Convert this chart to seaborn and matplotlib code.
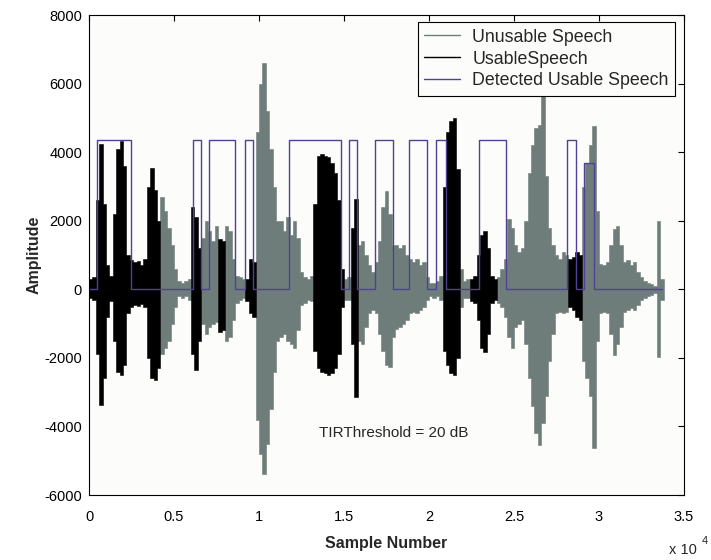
import numpy as np
import pandas as pd
import matplotlib
matplotlib.use("Agg")
import matplotlib.pyplot as plt
import seaborn as sns
from matplotlib.lines import Line2D

# waveform envelope, one (top, bottom) pair per 200-sample bin
BIN_WIDTH = 200
env_top = [
    300, 350, 2600, 4230, 2500, 700, 400, 2200, 4100, 4330,
    3600, 1000, 850, 800, 820, 700, 900, 3000, 3550, 2900,
    2000, 2700, 2300, 1800, 1300, 600, 250, 200, 250, 300,
    2400, 2100, 1200, 1500, 2000, 1700, 1400, 1860, 1470, 1400,
    1850, 1700, 900, 400, 350, 300, 300, 900, 800, 4600,
    6000, 6600, 5200, 4100, 3000, 2000, 2000, 1700, 2100, 1600,
    2000, 1500, 500, 350, 300, 400, 2500, 3900, 3950, 3900,
    3850, 3700, 3400, 2600, 600, 300, 350, 1800, 2630, 1300,
    1400, 1000, 700, 500, 800, 1400, 2400, 2880, 2200, 1300,
    1300, 1200, 1300, 1000, 900, 800, 900, 700, 800, 350,
    200, 200, 250, 400, 3000, 4600, 4900, 5000, 3500, 600,
    250, 300, 300, 400, 1000, 1600, 1715, 1200, 400, 300,
    350, 600, 900, 2050, 1800, 1300, 1100, 1200, 2000, 3400,
    4200, 4700, 4800, 7400, 3300, 1800, 1300, 1000, 900, 1085,
    1000, 900, 950, 1100, 1000, 3000, 3700, 4200, 4770, 2300,
    750, 700, 800, 1300, 1750, 1860, 1300, 800, 850, 700,
    800, 500, 350, 250, 200, 150, 100, 2000, 300,
]
env_bottom = [
    -250, -300, -1900, -3370, -2600, -800, -350, -1500, -2400, -2500,
    -2200, -700, -500, -450, -480, -420, -500, -2000, -2600, -2650,
    -2300, -1900, -1700, -1500, -1000, -500, -200, -250, -200, -300,
    -1900, -2350, -1500, -1000, -1300, -1100, -1000, -950, -1240, -1200,
    -1500, -1400, -900, -400, -300, -250, -350, -700, -800, -3800,
    -4800, -5400, -4500, -3500, -2400, -1500, -1400, -1300, -1500, -1600,
    -1700, -1200, -450, -400, -300, -350, -1800, -2300, -2400, -2450,
    -2500, -2450, -2300, -1900, -500, -300, -300, -1600, -3130, -1500,
    -1600, -1100, -700, -600, -700, -1300, -1800, -2200, -2260, -1400,
    -1150, -1100, -1000, -900, -700, -650, -700, -600, -500, -300,
    -200, -250, -200, -300, -1800, -2200, -2450, -2500, -2000, -500,
    -250, -250, -350, -400, -900, -1700, -1820, -1300, -400, -300,
    -400, -500, -800, -1400, -1720, -1100, -1000, -900, -1600, -2600,
    -3400, -4200, -4530, -3900, -3100, -2100, -1300, -700, -650, -700,
    -650, -500, -600, -800, -900, -2100, -2600, -3100, -4630, -1500,
    -700, -650, -700, -1300, -1920, -1600, -1100, -650, -600, -550,
    -600, -450, -300, -250, -200, -150, -100, -1970, -300,
]
# sample ranges classed as usable speech (black)
usable_start = [0, 6000, 7600, 9200, 13200, 15400, 20800, 22400, 28200]
usable_end = [4200, 6600, 8000, 9800, 15000, 15800, 21800, 24000, 29000]

# detector output pulses
det_start = [453, 6100, 7060, 9180, 11760, 15310, 16840, 18840, 20390, 22960, 28140, 29120]
det_end = [2470, 6590, 8590, 9660, 14820, 15780, 17900, 19900, 20980, 24530, 28650, 29690]
det_level = [4350, 4350, 4350, 4350, 4350, 4350, 4350, 4350, 4350, 4350, 4350, 3700]
signal_end = 33700

x_ticks = [0, 5000, 10000, 15000, 20000, 25000, 30000, 35000]
x_tick_labels = ["0", "0.5", "1", "1.5", "2", "2.5", "3", "3.5"]
y_ticks = [-6000, -4000, -2000, 0, 2000, 4000, 6000, 8000]

GRAY = "#6e7d7a"
BLACK = "#000000"
DETECT = "#4f4295"

sns.set_theme(style="white")
plt.rcParams["font.family"] = ["Liberation Sans", "DejaVu Sans"]
plt.rcParams["axes.unicode_minus"] = False


def is_usable(center):
    return any(s <= center < e for s, e in zip(usable_start, usable_end))


# group bins into runs of the same class
env = pd.DataFrame({"top": env_top, "bottom": env_bottom})
env["left"] = env.index * BIN_WIDTH
env["kind"] = ["usable" if is_usable(l + BIN_WIDTH / 2) else "unusable" for l in env["left"]]
env["run"] = (env["kind"] != env["kind"].shift()).cumsum()

# detector step trace
sx, sy = [0], [0]
for s, e, lv in zip(det_start, det_end, det_level):
    sx += [s, s, e, e]
    sy += [0, lv, lv, 0]
sx.append(signal_end)
sy.append(0)
det = pd.DataFrame({"sample": sx, "amp": sy})

fig = plt.figure(figsize=(7.11, 5.6), dpi=100)
fig.patch.set_facecolor("white")
ax = fig.add_axes([0.1252, 0.116, 0.8368, 0.857])
ax.set_facecolor("#fcfcfa")

colors = {"usable": BLACK, "unusable": GRAY}
for kind in ["unusable", "usable"]:
    for _, seg in env[env["kind"] == kind].groupby("run"):
        bx = list(seg["left"]) + [seg["left"].iloc[-1] + BIN_WIDTH]
        bt = list(seg["top"]) + [seg["top"].iloc[-1]]
        bb = list(seg["bottom"]) + [seg["bottom"].iloc[-1]]
        ax.fill_between(bx, bb, bt, step="post", color=colors[kind], lw=0.4,
                        zorder=3 if kind == "usable" else 2.8)

sns.lineplot(data=det, x="sample", y="amp", estimator=None, sort=False,
             color=DETECT, linewidth=1.0, ax=ax, zorder=4)

ax.set_xlim(0, 35000)
ax.set_ylim(-6000, 8000)
ax.set_xticks(x_ticks)
ax.set_xticklabels(x_tick_labels)
ax.set_yticks(y_ticks)
ax.tick_params(axis="both", direction="in", length=4, width=0.8, labelsize=10.5,
               top=True, right=True, color="black", labelcolor="black")
ax.tick_params(axis="x", pad=10.5)
ax.tick_params(axis="y", pad=5)
for sp in ax.spines.values():
    sp.set_color("black")
    sp.set_linewidth(0.8)
    sp.set_zorder(6)

ax.set_xlabel("Sample Number", fontsize=11.5, fontweight="bold", labelpad=9)
ax.set_ylabel("Amplitude", fontsize=11.5, fontweight="bold", labelpad=2)

ax.text(17940, -4190, "TIRThreshold = 20 dB", fontsize=11, ha="center", va="center")
ax.text(0.975, -0.122, "x 10", transform=ax.transAxes, fontsize=10.5, ha="left", va="baseline")
ax.text(1.03, -0.102, "4", transform=ax.transAxes, fontsize=8, ha="left", va="baseline")

handles = [Line2D([], [], color=GRAY, lw=1),
           Line2D([], [], color=BLACK, lw=1),
           Line2D([], [], color=DETECT, lw=1)]
leg = ax.legend(handles, ["Unusable Speech", "UsableSpeech", "Detected Usable Speech"],
                loc="upper right", bbox_to_anchor=(0.985, 0.985), borderaxespad=0,
                fontsize=12.8, frameon=True, fancybox=False, framealpha=1,
                edgecolor="black", handlelength=2.0, labelspacing=0.28,
                borderpad=0.35, handletextpad=0.7)
leg.get_frame().set_linewidth(0.8)
leg.get_frame().set_facecolor("#fcfcfa")
leg.set_zorder(5)

fig.savefig("out.png", dpi=100)
